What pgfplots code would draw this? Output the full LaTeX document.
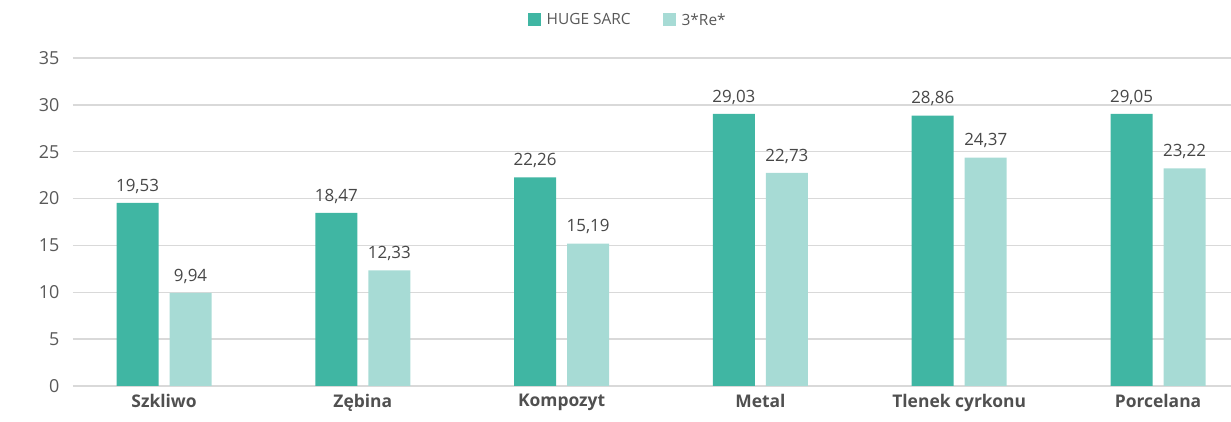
\documentclass[border=0pt]{standalone}
\usepackage{pgfplots}
\pgfplotsset{compat=1.18}
\usepackage{fontspec}
\setmainfont{Open Sans}
\definecolor{dark}{HTML}{40B6A3}
\definecolor{light}{HTML}{A7DBD5}
\definecolor{txt}{HTML}{595959}
\definecolor{gridc}{HTML}{D9D9D9}
\begin{document}
\begin{tikzpicture}
\begin{axis}[
  scale only axis,
  width=1158bp, height=328bp,
  ybar=11bp, bar width=42bp,
  xmin=-0.458, xmax=5.367,
  ymin=0, ymax=35,
  ytick={0,5,...,35},
  xtick={0,1,2,3,4,5},
  xticklabels={Szkliwo,Zębina,Kompozyt,Metal,Tlenek cyrkonu,Porcelana},
  xticklabel style={font=\fontsize{17.5}{20}\selectfont\bfseries, text=txt!90!black, yshift=-5bp},
  yticklabel style={font=\fontsize{18}{20}\selectfont, text=txt, xshift=-10bp},
  /pgf/number format/assume math mode=true,
  axis line style={draw=none},
  major tick length=0pt,
  ymajorgrids, grid style={gridc, line width=1.3bp},
  nodes near coords,
  nodes near coords style={font=\fontsize{17}{20}\selectfont, text=txt!80!black, yshift=6bp,
    /pgf/number format/use comma, /pgf/number format/fixed, /pgf/number format/precision=2,
    /pgf/number format/fixed zerofill, /pgf/number format/assume math mode=true},
  legend style={at={(0.479,1.116)}, anchor=center, draw=none, legend columns=2, font=\fontsize{15.5}{18}\selectfont, text=txt, column sep=4bp,
    /tikz/every even column/.append style={column sep=30bp}},
  legend image code/.code={\fill[#1] (0bp,-6.5bp) rectangle (13bp,6.5bp);},
]
\addplot[fill=dark, draw=none] coordinates {(0,19.53) (1,18.47) (2,22.26) (3,29.03) (4,28.86) (5,29.05)};
\addplot[fill=light, draw=none] coordinates {(0,9.94) (1,12.33) (2,15.19) (3,22.73) (4,24.37) (5,23.22)};
\legend{HUGE SARC, 3*Re*}
\end{axis}
\pgfresetboundingbox
\path (current axis.south west) ++(-73bp,-36bp) rectangle ++(1231bp,422bp);
\end{tikzpicture}
\end{document}
